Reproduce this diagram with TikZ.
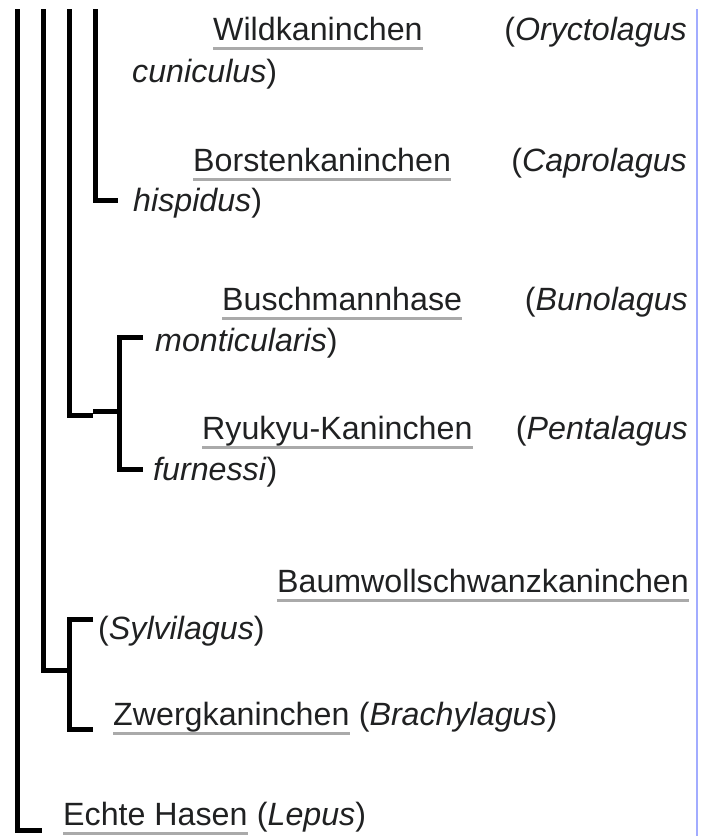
\documentclass[tikz,border=0pt]{standalone}
\usepackage{fontspec}
\setmainfont{Liberation Sans}
\definecolor{inktext}{RGB}{32,33,34}
\definecolor{linkgray}{RGB}{170,170,170}
\definecolor{rulerblue}{RGB}{162,172,255}
\tikzset{
  taxon/.style={inner sep=0pt, anchor=base west, text=inktext, font=\fontsize{32.2}{38}\selectfont},
  taxonr/.style={taxon, anchor=base east},
  clade/.style={line width=5pt, line join=miter},
  wlink/.style={draw=linkgray, line width=3pt}
}
\newcommand\linkline[1]{\draw[wlink] ([yshift=-8.5pt]#1.base west) -- ([yshift=-8.5pt]#1.base east);}

\begin{document}
\begin{tikzpicture}[x=1pt, y=-1pt]
    \useasboundingbox (0,0) rectangle (706,836);
    % right-hand ruler
    \draw [rulerblue, line width=2pt] (697,9) -- (697,836);
    % leaves
    \node [taxon] (wild) at (213,40) {Wildkaninchen};
    \node [taxonr] (wildsp) at (687,40) {(\textit{Oryctolagus}};
    \node [taxon] (wildep) at (132,82) {\textit{cuniculus})};
    \node [taxon] (borst) at (193,171) {Borstenkaninchen};
    \node [taxonr] (borstsp) at (687,171) {(\textit{Caprolagus}};
    \node [taxon] (borstep) at (133,211) {\textit{hispidus})};
    \node [taxon] (busch) at (222,310) {Buschmannhase};
    \node [taxonr] (buschsp) at (688,310) {(\textit{Bunolagus}};
    \node [taxon] (buschep) at (155,351) {\textit{monticularis})};
    \node [taxon] (ryu) at (202,439) {Ryukyu-Kaninchen};
    \node [taxonr] (ryusp) at (688,439) {(\textit{Pentalagus}};
    \node [taxon] (ryuep) at (153,480) {\textit{furnessi})};
    \node [taxonr] (baum) at (689,592) {Baumwollschwanzkaninchen};
    \node [taxon] (baumsp) at (98,639) {(\textit{Sylvilagus})};
    \node [taxon] (zwerg) at (113,725) {Zwergkaninchen};
    \node [taxon, anchor=base west] (zwergsp) at (zwerg.base east) {\ (\textit{Brachylagus})};
    \node [taxon] (hasen) at (63,825) {Echte Hasen};
    \node [taxon, anchor=base west] (hasensp) at (hasen.base east) {\ (\textit{Lepus})};
    \foreach \n in {wild,borst,busch,ryu,baum,zwerg,hasen} {\linkline{\n}}
    % tree
    \coordinate (top1) at (17.5,9);
    \coordinate (top2) at (43.5,9);
    \coordinate (top3) at (69.5,9);
    \coordinate (top4) at (95.5,9);
    \coordinate (tipborst) at (118,200);
    \coordinate (tipbusch) at (143,337.5);
    \coordinate (tipryu) at (143,469.5);
    \coordinate (tipbaum) at (93,619.5);
    \coordinate (tipzwerg) at (93,729.5);
    \coordinate (tiphasen) at (42,830.5);
    \draw [clade] (top4) |- (tipborst);
    \draw [clade] (tipbusch) -- ++(-23.5,0) |- (tipryu);
    \draw [clade] (top3) |- (93,415);
    \draw [clade] (93,411) -- (119.5,411);
    \draw [clade] (tipbaum) -- ++(-23.5,0) |- (tipzwerg);
    \draw [clade] (top2) |- (69.5,670.5);
    \draw [clade] (top1) |- (tiphasen);
\end{tikzpicture}
\end{document}
